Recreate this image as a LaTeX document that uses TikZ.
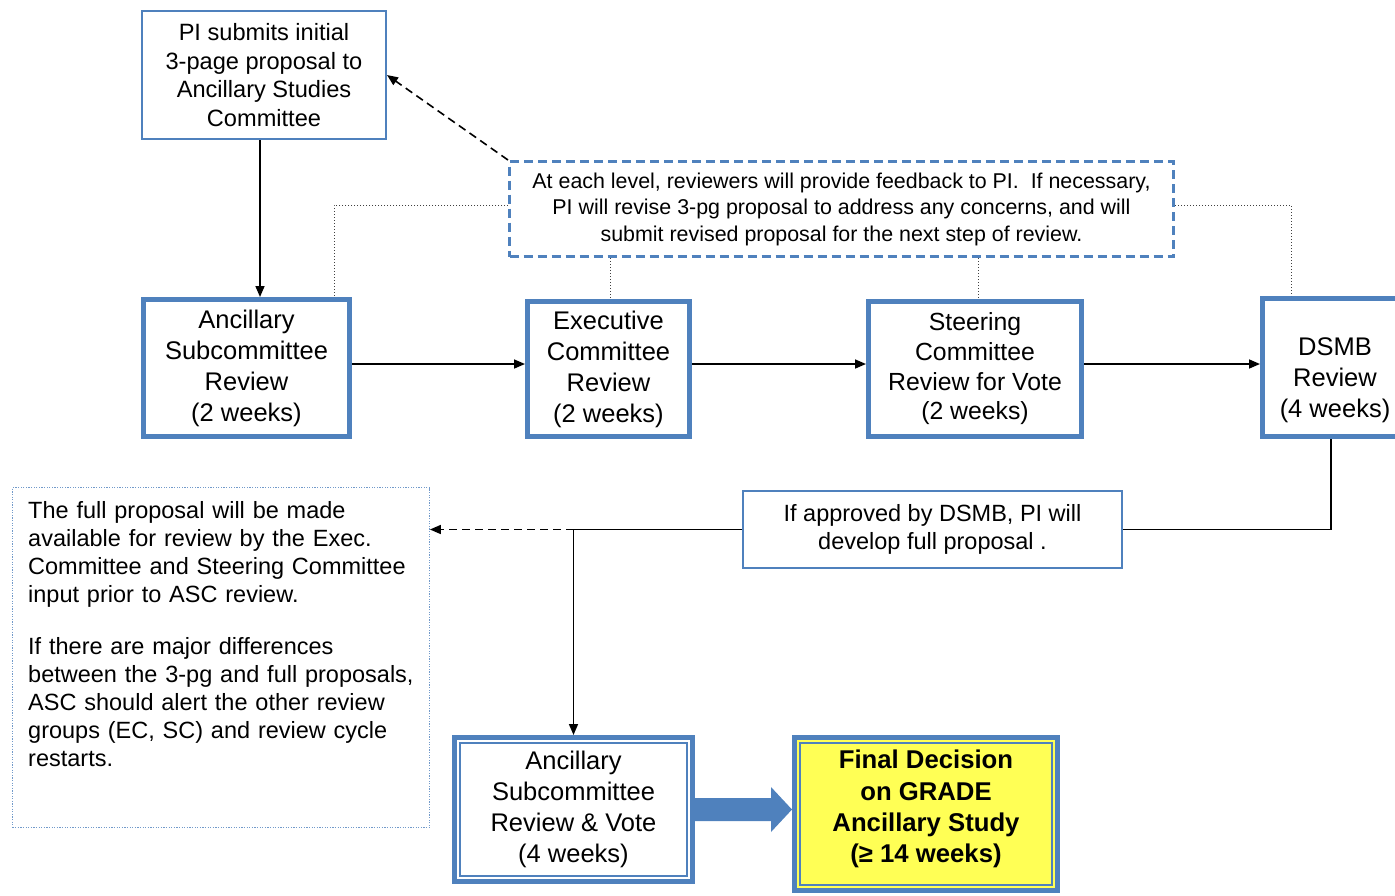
\documentclass[tikz,border=0pt]{standalone}
\usepackage{fontspec}
\setmainfont{Liberation Sans}
\usetikzlibrary{arrows.meta,calc}
\definecolor{bblue}{HTML}{4F81BD}
\definecolor{fyel}{HTML}{FFFF55}
\definecolor{dotgray}{HTML}{404040}
\begin{document}
\begin{tikzpicture}[x=1pt,y=-1pt,
  box/.style={draw=bblue, inner sep=0pt, align=center, text=black},
  thickbox/.style={box, line width=5pt, font=\fontsize{25.5}{31}\selectfont},
  thinbox/.style={box, line width=2pt},
  arr/.style={line width=1.6pt, -{Triangle[length=11pt,width=9pt]}},
  dasharr/.style={arr, dash pattern=on 8pt off 5pt},
  dotline/.style={dotgray, line width=0.9pt, dash pattern=on 1.4pt off 1.6pt},
  plain/.style={line width=1.6pt}]
\useasboundingbox (0,0) rectangle (1395,895);

% top box
\node[thinbox, minimum width=244, minimum height=128, font=\fontsize{23.6}{28.5}\selectfont] (top) at (264,75)
  {PI submits initial\\3-page proposal to\\Ancillary Studies\\Committee};

% dashed feedback box
\node[box, line width=3pt, dash pattern=on 9pt off 5pt, minimum width=664, minimum height=95,
  font=\fontsize{21.4}{26.5}\selectfont] (fb) at (841.5,209)
  {At each level, reviewers will provide feedback to PI.\ \ If necessary,\\
   PI will revise 3-pg proposal to address any concerns, and will\\
   submit revised proposal for the next step of review.};

% review boxes
\node[thickbox, minimum width=206, minimum height=137] (anc) at (246.5,368)
  {Ancillary\\Subcommittee\\Review\\(2 weeks)};
\node[thickbox, minimum width=162, minimum height=135] (exec) at (608.5,369)
  {Executive\\Committee\\Review\\(2 weeks)};
\node[thickbox, minimum width=213, minimum height=135, font=\fontsize{24.8}{29.7}\selectfont] (steer) at (975,369)
  {Steering\\Committee\\Review for Vote\\(2 weeks)};
\node[thickbox, minimum width=145, minimum height=138] (dsmb) at (1335,367.5) {};
\node[align=center, inner sep=0pt, font=\fontsize{25.5}{31}\selectfont] (dsmbt) at (1335,380)
  {DSMB\\Review\\(4 weeks)};

% approval box
\node[thinbox, minimum width=379, minimum height=77, font=\fontsize{23.5}{28}\selectfont] (appr) at (932.5,529.5)
  {If approved by DSMB, PI will\\develop full proposal .};

% note box
\node[draw=bblue!80, line width=0.8pt, dash pattern=on 1.2pt off 1.4pt, minimum width=417, minimum height=340, inner sep=0pt] (note) at (221,657.5) {};
\node[anchor=base west, inner sep=0pt, align=left, text width=400, font=\fontsize{23.5}{28}\selectfont] (notet) at (28,518.5)
  {The full proposal will be made\\
   available for review by the Exec.\\
   Committee and Steering Committee\\
   input prior to ASC review.\\[24pt]
   If there are major differences\\
   between the 3-pg and full proposals,\\
   ASC should alert the other review\\
   groups (EC, SC) and review cycle\\
   restarts.};

% bottom boxes
\node[thickbox, minimum width=238, minimum height=144] (banc) at (573.5,809.5)
  {Ancillary\\Subcommittee\\Review \& Vote\\(4 weeks)};
\draw[bblue, line width=1.5pt] ([shift={(8,8)}]banc.north west) rectangle ([shift={(-8,-8)}]banc.south east);
\node[thickbox, fill=fyel, minimum width=263, minimum height=153] (fin) at (926,814) {};
\draw[bblue, line width=1.5pt] ([shift={(8,8)}]fin.north west) rectangle ([shift={(-8,-8)}]fin.south east);
\node[align=center, inner sep=0pt, font=\bfseries\fontsize{25.7}{31.3}\selectfont] (fint) at (926,809)
  {Final Decision\\on GRADE\\Ancillary Study\\(≥ 14 weeks)};

% connectors
\draw[arr] ([xshift=-4pt]top.south) -- ([xshift=-4pt]top.south |- anc.north);
\draw[dasharr] (fb.north west) -- (top.east);
\draw[arr] ([yshift=4pt]anc.east) -- ([yshift=4pt]anc.east -| exec.west);
\draw[arr] ([yshift=5pt]exec.east) -- ([yshift=5pt]exec.east -| steer.west);
\draw[arr] ([yshift=5pt]steer.east) -- ([yshift=5pt]steer.east -| dsmb.west);

\draw[dotline] ([yshift=4pt]fb.west) -| ([xshift=87.5pt]anc.north);
\draw[dotline] ([xshift=1.5pt]exec.north |- fb.south) -- ([xshift=1.5pt]exec.north);
\draw[dotline] ([xshift=3pt]steer.north |- fb.south) -- ([xshift=3pt]steer.north);
\draw[dotline] ([yshift=4pt]fb.east) -| ([xshift=-44pt]dsmb.north);

\draw[plain] ([xshift=-4pt]dsmb.south) |- (appr.east);
\coordinate (j) at (banc.north |- appr.west);
\draw[plain] (appr.west) -- (j);
\draw[arr] (j) -- (banc.north);
\draw[dasharr] (j) -- (j -| note.east);

% block arrow
\coordinate (tip) at (banc.east -| fin.west);
\fill[bblue] (tip) -- ++(-21,-22.5) -- ++(0,11) -- (banc.east |- 0,798) -- (banc.east |- 0,821) -- ($(tip)+(-21,11.5)$) -- ++(0,11) -- cycle;
\end{tikzpicture}
\end{document}
